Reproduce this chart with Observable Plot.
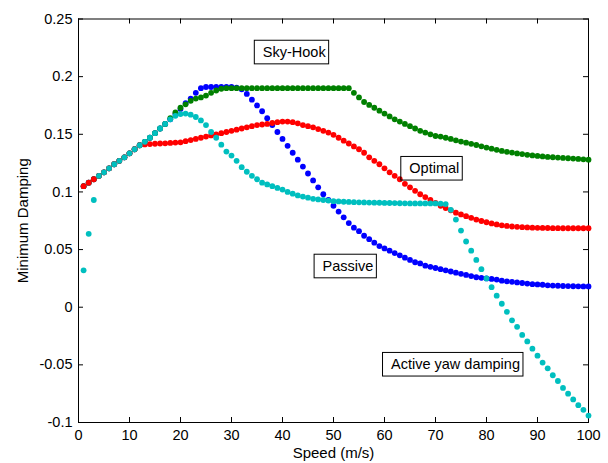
<!DOCTYPE html>
<html>
<head>
<meta charset="utf-8">
<script src="https://cdn.jsdelivr.net/npm/d3@7"></script>
<script src="https://cdn.jsdelivr.net/npm/@observablehq/plot@0.6"></script>
<style>
  html, body { margin: 0; padding: 0; background: #fff; }
</style>
</head>
<body>
<div id="chart"></div>
<script>
// ---- data ----
const speeds = d3.range(1, 101); // m/s, 1..100

const common = [0.105, 0.108, 0.111, 0.114, 0.117, 0.1205, 0.124, 0.127, 0.130, 0.1335, 0.137, 0.1405];

const passive = common.concat([
  0.1435, 0.147, 0.151, 0.155, 0.159, 0.163, 0.1675, 0.172, 0.177, 0.181,
  0.186, 0.190, 0.191, 0.191, 0.191, 0.191, 0.191, 0.191, 0.1905, 0.189,
  0.185, 0.180, 0.175, 0.170, 0.164, 0.158, 0.152, 0.146, 0.140, 0.134,
  0.128, 0.122, 0.116, 0.110, 0.104, 0.098, 0.093, 0.088, 0.083, 0.078,
  0.073, 0.069, 0.066, 0.062, 0.059, 0.056, 0.053, 0.051, 0.049, 0.047,
  0.045, 0.043, 0.041, 0.039, 0.038, 0.036, 0.035, 0.034, 0.033, 0.032,
  0.031, 0.030, 0.029, 0.028, 0.027, 0.026, 0.0255, 0.025, 0.0245, 0.024,
  0.023, 0.0225, 0.022, 0.0215, 0.021, 0.0205, 0.020, 0.0198, 0.0195, 0.019,
  0.0188, 0.0186, 0.0184, 0.0183, 0.0182, 0.0181, 0.018, 0.018
]);

const skyHook = common.concat([
  0.1435, 0.147, 0.151, 0.155, 0.159, 0.164, 0.169, 0.173, 0.176, 0.179,
  0.181, 0.182, 0.1836, 0.186, 0.188, 0.1895, 0.190, 0.190, 0.190, 0.190,
  0.190, 0.190, 0.190, 0.190, 0.190, 0.190, 0.190, 0.190, 0.190, 0.190,
  0.190, 0.190, 0.190, 0.190, 0.190, 0.190, 0.190, 0.190, 0.190, 0.190,
  0.190, 0.186, 0.182, 0.178, 0.1755, 0.173, 0.1705, 0.168, 0.1655, 0.163,
  0.161, 0.159, 0.157, 0.155, 0.153, 0.1515, 0.150, 0.1485, 0.148, 0.147,
  0.146, 0.1448, 0.1437, 0.1427, 0.1417, 0.1407, 0.1396, 0.1385, 0.1375, 0.1365,
  0.1356, 0.1348, 0.1341, 0.1334, 0.1328, 0.1322, 0.1317, 0.1312, 0.1308, 0.1304,
  0.1301, 0.1298, 0.1295, 0.1292, 0.1289, 0.1286, 0.1283, 0.128
]);

const optimal = common.concat([
  0.1412, 0.1415, 0.1418, 0.142, 0.1422, 0.1425, 0.1428, 0.143, 0.144, 0.145,
  0.146, 0.147, 0.148, 0.149, 0.150, 0.151, 0.152, 0.153, 0.154, 0.155,
  0.156, 0.157, 0.158, 0.1585, 0.159, 0.1598, 0.1605, 0.161, 0.161, 0.1605,
  0.1595, 0.158, 0.157, 0.156, 0.1545, 0.153, 0.1515, 0.1495, 0.147, 0.1445,
  0.142, 0.1395, 0.137, 0.134, 0.130, 0.127, 0.124, 0.1205, 0.117, 0.114,
  0.111, 0.107, 0.104, 0.101, 0.098, 0.0955, 0.093, 0.0905, 0.088, 0.086,
  0.084, 0.082, 0.0805, 0.079, 0.0775, 0.076, 0.0748, 0.0737, 0.0727, 0.0718,
  0.071, 0.0705, 0.070, 0.0697, 0.0694, 0.0692, 0.069, 0.0689, 0.0688, 0.0687,
  0.0686, 0.0686, 0.0685, 0.0685, 0.0685, 0.0685, 0.0685, 0.0685
]);

const activeYaw = [0.032, 0.0637, 0.093].concat(common.slice(3), [
  0.1435, 0.147, 0.151, 0.155, 0.159, 0.163, 0.166, 0.1675, 0.168, 0.167,
  0.165, 0.162, 0.158, 0.152, 0.147, 0.141, 0.135, 0.1315, 0.127, 0.1215,
  0.1175, 0.114, 0.111, 0.108, 0.1065, 0.105, 0.1035, 0.102, 0.100, 0.0985,
  0.097, 0.096, 0.095, 0.094, 0.0935, 0.093, 0.0925, 0.092, 0.0918, 0.0915,
  0.0913, 0.0911, 0.091, 0.0909, 0.0908, 0.0907, 0.0906, 0.0905, 0.0904, 0.0903,
  0.0902, 0.0901, 0.090, 0.090, 0.090, 0.090, 0.090, 0.090, 0.0898, 0.0895,
  0.0845, 0.076, 0.0665, 0.057, 0.049, 0.041, 0.033, 0.025, 0.0174, 0.010,
  0.003, -0.004, -0.0114, -0.017, -0.024, -0.0297, -0.036, -0.042, -0.048, -0.053,
  -0.059, -0.064, -0.070, -0.075, -0.080, -0.085, -0.089, -0.094
]);

const xTicks = [0, 10, 20, 30, 40, 50, 60, 70, 80, 90, 100];
const yTicks = [-0.1, -0.05, 0, 0.05, 0.1, 0.15, 0.2, 0.25];

const labelTexts = ["Sky-Hook", "Optimal", "Passive", "Active yaw damping"];
const labelX = [42.3, 69.76, 52.84, 73.92];
const labelY = [0.2209, 0.1201, 0.0353, -0.0499];

// ---- layout ----
const W = 608, H = 463, mL = 78, mR = 20, mT = 18.5, mB = 41;
const xDom = [0, 100], yDom = [-0.1, 0.25];
const pxPerX = (W - mL - mR) / (xDom[1] - xDom[0]);
const pxPerY = (H - mT - mB) / (yDom[1] - yDom[0]);
const FONT = "'Liberation Sans', Arial, Helvetica, sans-serif";
const tickLen = 5;

const series = [
  {values: passive, color: "#0000ff"},
  {values: skyHook, color: "#008000"},
  {values: optimal, color: "#ff0000"},
  {values: activeYaw, color: "#00bfbf"}
];

// measure label text widths for the boxes
const ctx = document.createElement("canvas").getContext("2d");
ctx.font = "14.5px " + FONT;
const labels = labelTexts.map((t, i) => ({
  text: t, x: labelX[i], y: labelY[i], w: ctx.measureText(t).width
}));
const padL = 8, padR = 3.5, halfH = 11.8;

const marks = [
  Plot.frame({stroke: "black", strokeWidth: 1}),
  // inward ticks on all four sides
  Plot.ruleX(xTicks, {x: d => d, y1: yDom[0], y2: yDom[0] + tickLen / pxPerY, stroke: "black"}),
  Plot.ruleX(xTicks, {x: d => d, y1: yDom[1], y2: yDom[1] - tickLen / pxPerY, stroke: "black"}),
  Plot.ruleY(yTicks, {y: d => d, x1: xDom[0], x2: xDom[0] + tickLen / pxPerX, stroke: "black"}),
  Plot.ruleY(yTicks, {y: d => d, x1: xDom[1], x2: xDom[1] - tickLen / pxPerX, stroke: "black"})
];

for (const s of series) {
  marks.push(Plot.dot(speeds, {
    x: d => d,
    y: (d, i) => s.values[i],
    r: 2.9,
    fill: s.color,
    stroke: null
  }));
}

marks.push(
  Plot.rect(labels, {
    x1: d => d.x - (d.w / 2 + padL) / pxPerX,
    x2: d => d.x + (d.w / 2 + padR) / pxPerX,
    y1: d => d.y - halfH / pxPerY,
    y2: d => d.y + halfH / pxPerY,
    fill: "none",
    stroke: "black",
    strokeWidth: 1
  }),
  Plot.text(labels, {x: "x", y: "y", text: "text", fontSize: 14.5, fill: "black", textAnchor: "middle", lineAnchor: "middle"}),
  Plot.text(["Speed (m/s)"], {frameAnchor: "bottom", dy: 31, fontSize: 15, fill: "black", lineAnchor: "middle", textAnchor: "middle"}),
  Plot.text(["Minimum Damping"], {frameAnchor: "left", dx: -55.3, rotate: -90, fontSize: 15, fill: "black", lineAnchor: "middle", textAnchor: "middle"})
);

const chart = Plot.plot({
  width: W,
  height: H,
  marginLeft: mL,
  marginRight: mR,
  marginTop: mT,
  marginBottom: mB,
  style: {fontFamily: FONT, fontSize: "14.5px", background: "white", color: "black"},
  x: {domain: xDom, ticks: xTicks, tickSize: 0, tickPadding: 7, label: null, tickFormat: d => String(d)},
  y: {domain: yDom, ticks: yTicks, tickSize: 0, tickPadding: 6, label: null, tickFormat: d => String(+d.toFixed(2))},
  marks
});

document.getElementById("chart").appendChild(chart);
</script>
</body>
</html>
